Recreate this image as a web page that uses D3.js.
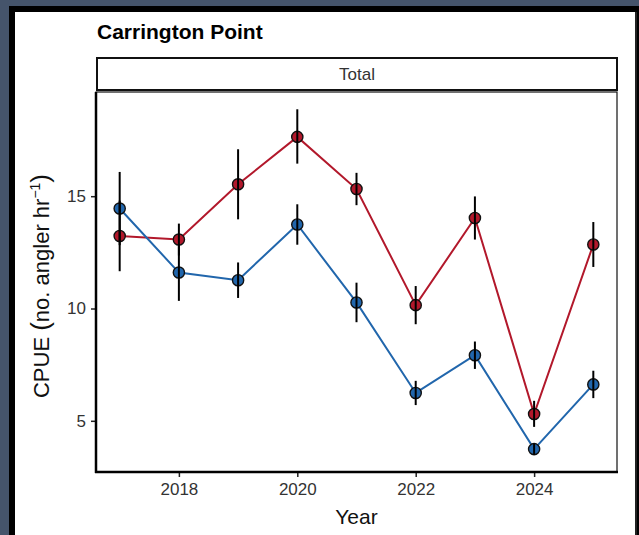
<!DOCTYPE html>
<html><head><meta charset="utf-8">
<script src="https://cdn.jsdelivr.net/npm/d3@7"></script>
<style>html,body{margin:0;padding:0;background:#45546b;}svg{display:block;}</style>
</head><body>
<svg id="c" width="639" height="535"></svg>
<script>
const years = [2017,2018,2019,2020,2021,2022,2023,2024,2025];
const blueMean  = [14.45,11.60,11.26,13.74,10.27,6.24,7.92,3.74,6.62];
const blueLower = [12.82,10.34,10.47,12.84,9.39,5.70,7.31,3.49,6.01];
const blueUpper = [16.08,12.86,12.05,14.64,11.15,6.78,8.53,3.99,7.23];
const redMean   = [13.23,13.07,15.53,17.64,15.32,10.15,14.03,5.30,12.85];
const redLower  = [11.66,12.36,13.97,16.45,14.60,9.30,13.07,4.73,11.85];
const redUpper  = [14.80,13.78,17.09,18.87,16.04,11.00,14.99,5.89,13.85];
const xTicks = [2018,2020,2022,2024];
const yTicks = [5,10,15];
const title = "Carrington Point";
const stripLabel = "Total";

const svg = d3.select("#c");
// frame
svg.append("rect").attr("x",9).attr("y",6).attr("width",630).attr("height",535).attr("fill","#000");
svg.append("rect").attr("x",15).attr("y",12).attr("width",620).attr("height",530).attr("fill","#fff");
svg.append("rect").attr("x",635).attr("y",12).attr("width",2).attr("height",530).attr("fill","#222");

const L=96, R=617, T=92, B=472;
const x = d3.scaleLinear().domain([2016.6,2025.4]).range([L,R]);
const lo = d3.min(blueLower.concat(redLower)), hi = d3.max(blueUpper.concat(redUpper));
const pad = (hi-lo)*0.05;
const y = d3.scaleLinear().domain([lo-pad,hi+pad]).range([B,T]);

const font = "Liberation Sans, Arial, Helvetica, sans-serif";

// title
svg.append("text").attr("x",97).attr("y",39).attr("font-family",font).attr("font-weight","bold")
  .attr("font-size",21).attr("fill","#000").text(title);

// strip
svg.append("rect").attr("x",97).attr("y",58).attr("width",R-97).attr("height",32)
  .attr("fill","#fff").attr("stroke","#111").attr("stroke-width",2);
svg.append("text").attr("x",(97+R)/2).attr("y",74).attr("dy","0.35em").attr("text-anchor","middle")
  .attr("font-family",font).attr("font-size",17).attr("fill","#333").text(stripLabel);

// panel border
svg.append("rect").attr("x",L).attr("y",T).attr("width",R-L).attr("height",B-T)
  .attr("fill","none").attr("stroke","#111").attr("stroke-width",1.2);

// axes
const xAxis = d3.axisBottom(x).tickValues(xTicks).tickFormat(d3.format("d")).tickSize(5).tickPadding(6);
const gx = svg.append("g").attr("transform",`translate(0,${B})`).call(xAxis);
const yAxis = d3.axisLeft(y).tickValues(yTicks).tickSize(5).tickPadding(5);
const gy = svg.append("g").attr("transform",`translate(${L},0)`).call(yAxis);
[gx,gy].forEach(g=>{
  g.select(".domain").remove();
  g.selectAll(".tick line").attr("stroke","#222").attr("stroke-width",1.5);
  g.selectAll(".tick text").attr("font-family",font).attr("font-size",17).attr("fill","#333");
});
svg.append("line").attr("x1",L).attr("x2",L).attr("y1",T).attr("y2",B+1).attr("stroke","#000").attr("stroke-width",2.5);
svg.append("line").attr("x1",L-1).attr("x2",R+1).attr("y1",B).attr("y2",B).attr("stroke","#000").attr("stroke-width",2.5);

// axis titles
svg.append("text").attr("x",(L+R)/2).attr("y",524).attr("text-anchor","middle")
  .attr("font-family",font).attr("font-size",21).attr("fill","#111").text("Year");
const yt = svg.append("text").attr("transform",`translate(49,${(T+B)/2 + 4}) rotate(-90)`)
  .attr("text-anchor","middle").attr("font-family",font).attr("font-size",22).attr("fill","#111");
yt.append("tspan").text("CPUE ");
yt.append("tspan").attr("font-size",26).text("(");
yt.append("tspan").text("no. angler hr");
yt.append("tspan").attr("font-size",14).attr("dy",-9).text("\u22121");
yt.append("tspan").attr("font-size",26).attr("dy",9).text(")");

const series = [
  {name:"red", color:"#b2182b", mean:redMean, lower:redLower, upper:redUpper},
  {name:"blue", color:"#2166ac", mean:blueMean, lower:blueLower, upper:blueUpper}
];
const line = d3.line().x(d=>x(d.year)).y(d=>y(d.v));
series.forEach(s=>{
  const data = years.map((yr,i)=>({year:yr, v:s.mean[i]}));
  svg.append("path").datum(data).attr("d",line).attr("fill","none")
    .attr("stroke",s.color).attr("stroke-width",2);
});
series.forEach(s=>{
  svg.append("g").selectAll("circle").data(years.map((yr,i)=>({year:yr, v:s.mean[i]})))
    .join("circle").attr("cx",d=>x(d.year)).attr("cy",d=>y(d.v)).attr("r",5.6)
    .attr("fill",s.color).attr("stroke","#111").attr("stroke-width",1.4);
});
series.forEach(s=>{
  svg.append("g").selectAll("line").data(years.map((yr,i)=>({year:yr, lo:s.lower[i], hi:s.upper[i]})))
    .join("line").attr("x1",d=>x(d.year)).attr("x2",d=>x(d.year))
    .attr("y1",d=>y(d.lo)).attr("y2",d=>y(d.hi)).attr("stroke","#000").attr("stroke-width",2);
});
</script>
</body></html>
